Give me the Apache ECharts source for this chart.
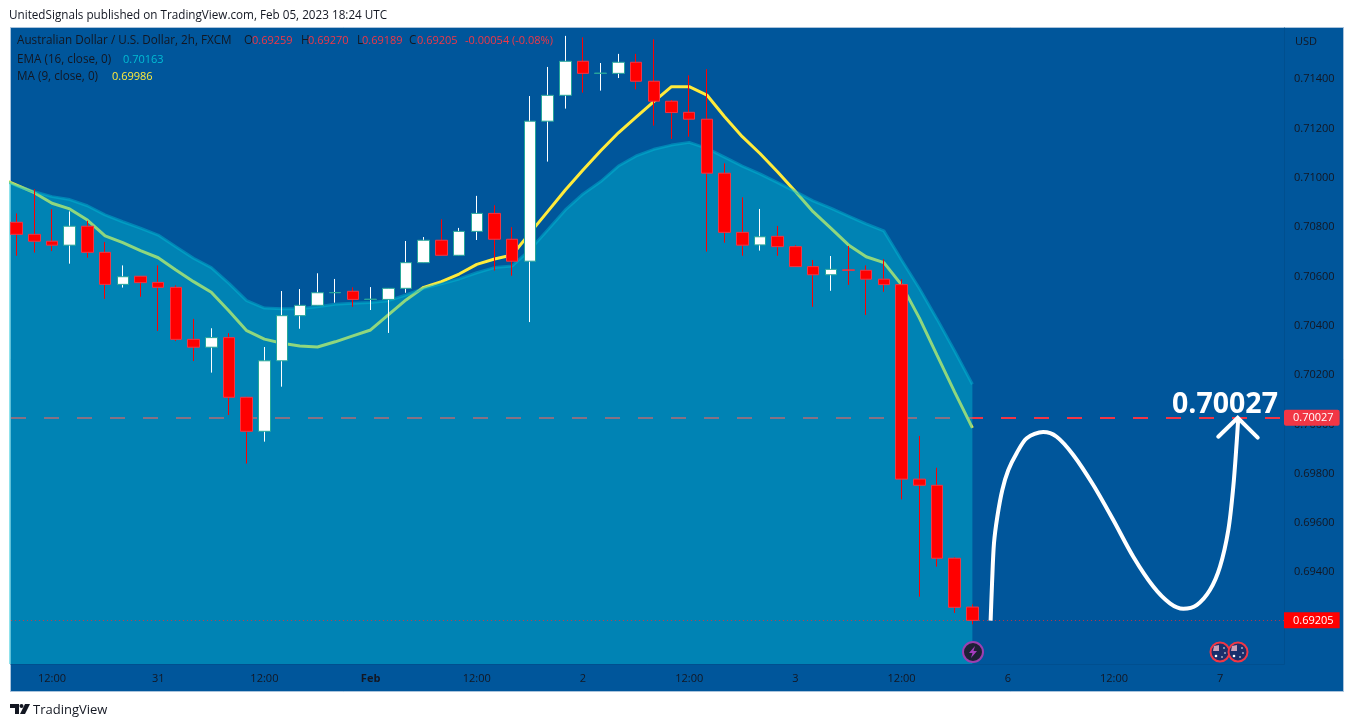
<!DOCTYPE html>
<html><head><meta charset="utf-8">
<style>html,body{margin:0;padding:0;background:#fff}#c{width:1354px;height:727px}</style>
<script src="https://cdn.jsdelivr.net/npm/echarts@6/dist/echarts.min.js"></script>
</head><body><div id="c"></div>
<script>
const openP=[.70820,.70771,.70743,.70727,.70804,.70698,.70568,.70601,.70576,.70556,.70345,.70313,.70352,.70110,.69972,.70258,.70441,.70483,.70534,.70540,.70507,.70507,.70552,.70656,.70747,.70686,.70783,.70856,.70751,.70662,.71230,.71335,.71473,.71424,.71424,.71469,.71392,.71311,.71266,.71238,.71019,.70779,.70728,.70763,.70721,.70640,.70607,.70627,.70625,.70589,.70567,.69778,.69753,.69457,.69259];
const closeP=[.70771,.70743,.70727,.70804,.70698,.70568,.70599,.70575,.70556,.70345,.70313,.70352,.70110,.69972,.70258,.70441,.70483,.70534,.70535,.70507,.70508,.70552,.70656,.70747,.70686,.70783,.70856,.70751,.70662,.71230,.71335,.71473,.71424,.71425,.71469,.71392,.71311,.71265,.71238,.71019,.70779,.70727,.70761,.70721,.70640,.70607,.70629,.70625,.70589,.70567,.69778,.69753,.69457,.69258,.69205];
const highP=[.70856,.70954,.70873,.70864,.70826,.70740,.70645,.70601,.70645,.70564,.70428,.70390,.70370,.70112,.70314,.70541,.70549,.70613,.70590,.70556,.70557,.70552,.70744,.70760,.70832,.70797,.70927,.70889,.70800,.71332,.71450,.71576,.71570,.71466,.71503,.71503,.71562,.71316,.71416,.71441,.71059,.70921,.70874,.70805,.70727,.70667,.70683,.70724,.70645,.70670,.70589,.69953,.69824,.69461,.69270];
const lowP=[.70684,.70697,.70703,.70652,.70676,.70509,.70555,.70518,.70379,.70338,.70257,.70210,.70038,.69841,.69930,.70153,.70388,.70483,.70494,.70477,.70464,.70371,.70534,.70656,.70686,.70686,.70748,.70624,.70603,.70415,.71066,.71281,.71346,.71354,.71405,.71359,.71212,.71158,.71167,.70701,.70737,.70684,.70705,.70684,.70640,.70477,.70542,.70566,.70444,.70538,.69696,.69301,.69423,.69235,.69189];
// indicator values start one bar before the first candle (index -1)
const emaP=[.71000,.70968,.70944,.70924,.70912,.70887,.70850,.70822,.70796,.70768,.70721,.70674,.70636,.70572,.70502,.70472,.70469,.70469,.70477,.70487,.70491,.70494,.70502,.70525,.70552,.70570,.70590,.70615,.70636,.70643,.70708,.70789,.70870,.70935,.70985,.71048,.71089,.71116,.71133,.71144,.71120,.71084,.71048,.71016,.70981,.70944,.70907,.70877,.70845,.70813,.70785,.70667,.70552,.70428,.70298,.70163];
const maP=[.71000,.70971,.70940,.70897,.70874,.70829,.70765,.70737,.70705,.70676,.70626,.70579,.70536,.70460,.70380,.70346,.70329,.70318,.70314,.70335,.70359,.70383,.70444,.70505,.70556,.70579,.70610,.70649,.70671,.70687,.70776,.70863,.70951,.71032,.71110,.71183,.71246,.71309,.71370,.71370,.71336,.71248,.71167,.71099,.71024,.70945,.70863,.70796,.70728,.70680,.70656,.70566,.70432,.70281,.70131,.69986];
const curveX=[55.03,55.11,55.22,55.41,55.69,56.03,56.50,57.07,58.0,58.76,59.70,60.83,61.96,63.09,64.22,65.16,65.92,66.67,67.42,67.99,68.46,68.74,68.93,69.02];
const curveY=[.69204,.69355,.69518,.69626,.69734,.69815,.69883,.69944,.69969,.69950,.69876,.69754,.69612,.69463,.69342,.69274,.69252,.69267,.69328,.69423,.69572,.69747,.69925,.70025];
const headX=[67.89,68.99,70.12];
const headY=[.69950,.70027,.69946];
const timeTicks=[2,8,14,20,26,32,38,44,50,56,62,68];
const timeLabels=['12:00','31','12:00','Feb','12:00','2','12:00','3','12:00','6','12:00','7'];
const priceTicks=[.694,.696,.698,.700,.702,.704,.706,.708,.710,.712,.714];
const lastClose=.69205, target=.70027;

const bg='#00569b',axisC='#004f8f',txt='#131722',FONT='"Open Sans",sans-serif';
const idx=a=>a.map((v,i)=>[i-1,v]);
const pairs=(x,y)=>x.map((v,i)=>[v,y[i]]);
const wicks=openP.map((o,i)=>[i,o,closeP[i],lowP[i],highP[i]]);
const bodies=openP.map((o,i)=>[i,o,closeP[i],Math.min(o,closeP[i]),Math.max(o,closeP[i])]);
const T=(x,y,s,fill,size)=>({type:'text',left:x,top:y,z:50,silent:true,style:{text:s,fill:fill,font:(size||'11.7px')+' '+FONT,textVerticalAlign:'top'}});
const flag=cx=>[
 {type:'circle',z:50,shape:{cx:cx,cy:652,r:9.5},style:{fill:'#1a2f6b',stroke:'#f23645',lineWidth:2}},
 {type:'polygon',z:51,shape:{points:[[cx-6,646],[cx-1,645],[cx-1,651],[cx-7,651]]},style:{fill:'#c9a0b8'}},
 {type:'circle',z:51,shape:{cx:cx-4,cy:656,r:1.3},style:{fill:'#fff'}},
 {type:'circle',z:51,shape:{cx:cx+4,cy:648,r:.8},style:{fill:'#fff'}},
 {type:'circle',z:51,shape:{cx:cx+5,cy:653,r:.8},style:{fill:'#fff'}},
 {type:'circle',z:51,shape:{cx:cx+2,cy:657,r:.8},style:{fill:'#fff'}}];
const graphics=[
 {type:'rect',z:-1,silent:true,shape:{x:10.5,y:27.5,width:1333,height:664},style:{fill:bg,stroke:'#a9c3dc',lineWidth:1}},
 T(9,10,'UnitedSignals published on TradingView.com, Feb 05, 2023 18:24 UTC','#131722'),
 T(17,35,'Australian Dollar / U.S. Dollar, 2h, FXCM',txt),
 T(244,35,'O',txt),T(252,35,'0.69259','#f23645','11px'),
 T(301,35,'H',txt),T(308,35,'0.69270','#f23645','11px'),
 T(357,35,'L',txt),T(362,35,'0.69189','#f23645','11px'),
 T(409,35,'C',txt),T(417,35,'0.69205','#f23645','11px'),
 T(465,35,'-0.00054 (-0.08%)','#f23645','11px'),
 T(17,54,'EMA (16, close, 0)',txt),T(123,54,'0.70163','#00bcd4','11px'),
 T(17,71,'MA (9, close, 0)',txt),T(112,71,'0.69986','#ffeb3b','11px'),
 T(1295,36,'USD',txt,'11px'),
 T(33,704,'TradingView','#131722','13px'),
 {type:'polygon',z:50,shape:{points:[[10,704],[19,704],[19,714],[15,714],[15,708],[10,708]]},style:{fill:'#131722'}},
 {type:'circle',z:50,shape:{cx:21.5,cy:706,r:2},style:{fill:'#131722'}},
 {type:'polygon',z:50,shape:{points:[[25,704],[30,704],[25,714],[20,714]]},style:{fill:'#131722'}},
 {type:'circle',z:50,shape:{cx:973,cy:652,r:10},style:{fill:'#1e2035',stroke:'#9c3fb0',lineWidth:2}},
 {type:'polygon',z:51,shape:{points:[[975,646],[969,653],[972.5,653],[971,658],[977,651],[973.5,651]]},style:{fill:'#a63cc0'}},
 ...flag(1220),...flag(1238)
];
const chart=echarts.init(document.getElementById('c'),null,{renderer:'canvas'});
chart.setOption({
 animation:false,backgroundColor:'transparent',
 grid:{left:11,top:28,width:1273,height:636,containLabel:false},
 xAxis:{type:'value',min:-0.3164,max:71.605,
  axisLine:{show:true,onZero:false,lineStyle:{color:axisC}},axisTick:{show:false},splitLine:{show:false},
  axisLabel:{customValues:timeTicks,color:txt,fontFamily:FONT,fontSize:11,margin:9,hideOverlap:false,
    formatter:v=>{const s=timeLabels[timeTicks.indexOf(v)];return s==='Feb'?'{b|Feb}':s;},
    rich:{b:{fontWeight:'bold',fontSize:11,color:txt,fontFamily:FONT}}}},
 yAxis:{type:'value',position:'right',min:.69028,max:.71608,scale:true,
  axisLine:{show:true,onZero:false,lineStyle:{color:axisC}},axisTick:{show:false},splitLine:{show:false},
  axisLabel:{customValues:priceTicks,color:txt,fontFamily:FONT,fontSize:11,margin:10,hideOverlap:false,formatter:v=>v.toFixed(5)}},
 graphic:{elements:graphics},
 series:[
  {type:'line',name:'MA',z:2,data:idx(maP),showSymbol:false,lineStyle:{color:'#ffeb3b',width:3},
   markLine:{z:1,silent:true,symbol:'none',animation:false,precision:5,
    lineStyle:{color:'#f23645',type:[15,18],width:2},
    label:{show:true,position:'end',distance:0,color:'#fff',backgroundColor:'#f23645',padding:[3,6,2,9],borderRadius:2,fontFamily:FONT,fontSize:11,formatter:p=>p.value.toFixed(5)},
    data:[{yAxis:target}]}},
  {type:'line',name:'EMA',z:3,data:idx(emaP),showSymbol:false,
   lineStyle:{color:'#00bcd4',width:3,opacity:.45},
   areaStyle:{color:'#00bcd4',opacity:.44,origin:'start'}},
  {type:'candlestick',name:'wicks',z:4,data:wicks,encode:{x:0,y:[1,2,3,4]},barWidth:1,
   itemStyle:{color:'#fff',color0:'#ff0000',borderColor:'#fff',borderColor0:'#ff0000',borderWidth:1}},
  {type:'candlestick',name:'bodies',z:5,data:bodies,encode:{x:0,y:[1,2,3,4]},barWidth:12,
   itemStyle:{color:'#fff',color0:'#ff0000',borderColor:'#26a69a',borderColor0:'#f23645',borderWidth:1},
   markLine:{z:6,silent:true,symbol:'none',animation:false,precision:5,
    lineStyle:{color:'rgba(255,40,40,.7)',type:[1,3],width:1},
    label:{show:true,position:'end',distance:0,color:'#fff',backgroundColor:'#ff0000',padding:[3,6,2,9],fontFamily:FONT,fontSize:11,formatter:p=>p.value.toFixed(5)},
    data:[{yAxis:lastClose}]}},
  {type:'line',name:'drawing',z:7,data:pairs(curveX,curveY),smooth:.3,showSymbol:false,lineStyle:{color:'#fff',width:4,cap:'butt'}},
  {type:'line',name:'arrow',z:7,data:pairs(headX,headY),showSymbol:false,lineStyle:{color:'#fff',width:4,cap:'round',join:'miter'},
   markPoint:{silent:true,symbol:'circle',symbolSize:1,itemStyle:{color:'transparent'},animation:false,
    data:[{coord:[68.27,.70081]}],
    label:{show:true,position:'inside',color:'#fff',fontFamily:FONT,fontWeight:'bold',fontSize:28.5,formatter:()=>target.toFixed(5)}}}
 ]
});
</script></body></html>
